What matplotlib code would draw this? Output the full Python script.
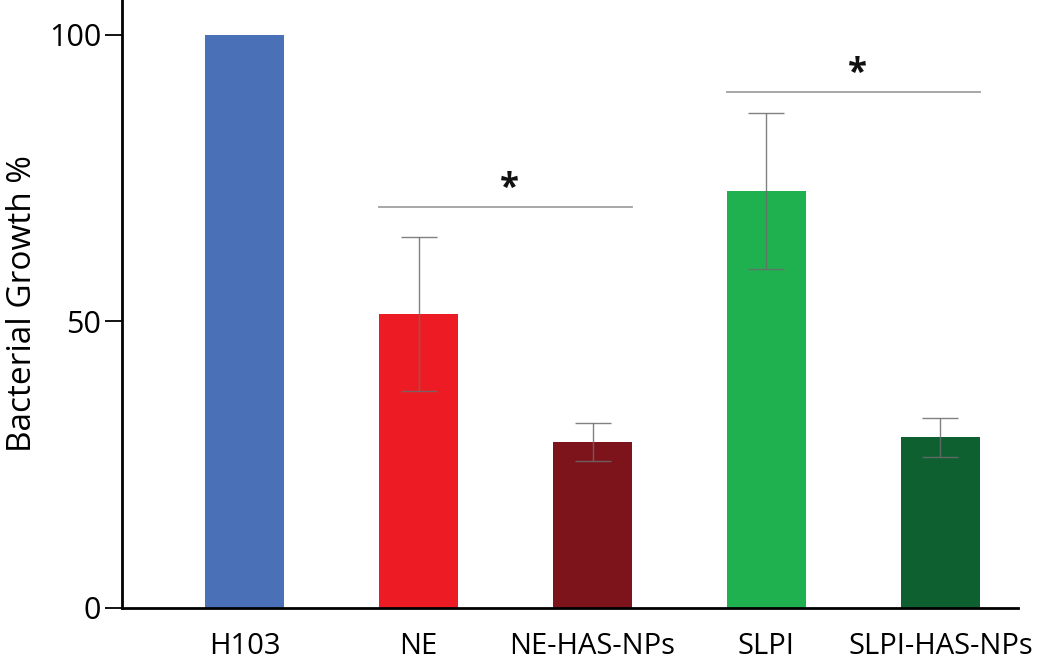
import matplotlib
matplotlib.use("Agg")
import matplotlib.pyplot as plt

categories = ["H103", "NE", "NE-HAS-NPs", "SLPI", "SLPI-HAS-NPs"]
values = [100.0, 51.3, 29.0, 72.8, 29.8]
errors = [0.0, 13.4, 3.35, 13.6, 3.4]
colors = ["#4A70B8", "#ED1C24", "#7E141B", "#1FB04F", "#0F6031"]
sig_pairs = [(1, 2, 70.0), (3, 4, 90.0)]

plt.rcParams['font.family'] = ['Open Sans', 'DejaVu Sans']

fig = plt.figure(figsize=(10.44, 6.69), dpi=100)
ax = fig.add_axes([0.1169, 0.0912, 0.975 - 0.1169, 1 - 0.0912])

w = 0.455
x = list(range(len(categories)))
ax.bar(x, values, width=w, color=colors, zorder=2)
for xi, v, e in zip(x, values, errors):
    if e > 0:
        ax.errorbar(xi, v, yerr=e, fmt='none', ecolor='#6b6b6b', elinewidth=1.0,
                    capsize=13, capthick=1.0, zorder=3, alpha=0.85)

for a, b, y in sig_pairs:
    ax.plot([a - w / 2, b + w / 2], [y, y], color='#a0a0a0', lw=1.3, zorder=1)
    ax.text((a + b) / 2 + 0.02, y + 3.2, "*", ha='center', va='center', fontsize=25,
            fontweight='bold', color='#111111')

ax.set_xlim(-0.704, 4.445)
ax.set_ylim(0, 106.1)
ax.set_yticks([0, 50, 100])
ax.set_xticks(x)
ax.set_xticklabels(categories)
ax.tick_params(axis='y', length=12, width=1.3, labelsize=22, pad=3)
ax.tick_params(axis='x', length=0, labelsize=21, pad=17)
for s in ['top', 'right']:
    ax.spines[s].set_visible(False)
for s in ['left', 'bottom']:
    ax.spines[s].set_linewidth(2)
ax.set_ylabel("Bacterial Growth %", fontsize=24, labelpad=7)

fig.savefig("out.png", dpi=100)
